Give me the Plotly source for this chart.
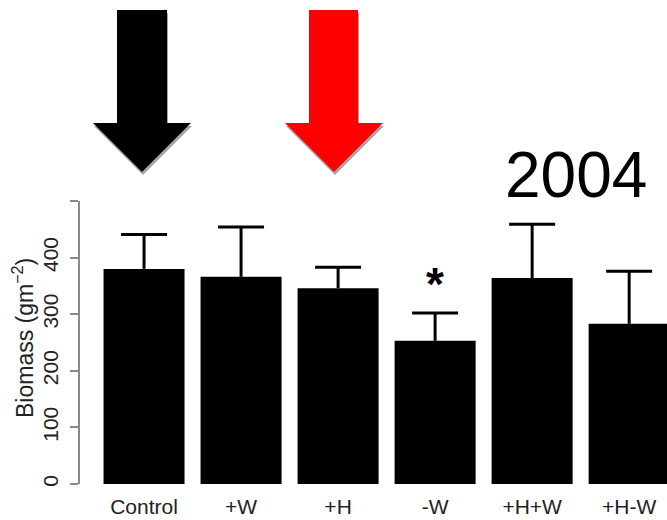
import plotly.graph_objects as go

# Treatment means and standard errors (upper whisker only)
treatments = ["Control", "+W", "+H", "-W", "+H+W", "+H-W"]
biomass = [380, 366, 346, 253, 364, 283]
std_err = [61, 88, 37, 49, 95, 93]
significant = ["-W"]
year_label = "2004"
y_ticks = [0, 100, 200, 300, 400]
y_top = 500

W, H = 667, 520
ML, MR, MT, MB = 80, 0, 201, 36
PW, PH = W - ML - MR, H - MT - MB
CAP_HALF = 0.237          # whisker cap half-width, in bar-slot units
FONT = "Liberation Sans, Arial"
AXIS_GREY = "#8a8a8a"


def px(x):
    return (x - ML) / PW


def py(y):
    return (H - MB - y) / PH


def arrow_path(shaft_l, shaft_r, top, head_l, head_r, head_y, tip_x, tip_y, dx=0, dy=0):
    pts = [(shaft_l, top), (shaft_r, top), (shaft_r, head_y), (head_r, head_y),
           (tip_x, tip_y), (head_l, head_y), (shaft_l, head_y)]
    return "M " + " L ".join(f"{px(a + dx):.5f},{py(b + dy):.5f}" for a, b in pts) + " Z"


pos = list(range(len(treatments)))

fig = go.Figure()
fig.add_trace(go.Bar(
    x=pos, y=biomass, width=0.835,
    marker=dict(color="black", line=dict(width=0)),
    hoverinfo="skip",
))

# upward-only whiskers with caps
wx, wy = [], []
for i, (m, e) in enumerate(zip(biomass, std_err)):
    wx += [i, i, None, i - CAP_HALF, i + CAP_HALF, None]
    wy += [m, m + e, None, m + e, m + e, None]
fig.add_trace(go.Scatter(x=wx, y=wy, mode="lines",
                         line=dict(color="black", width=3), hoverinfo="skip"))

shapes = []
for shaft_l, shaft_r, head_l, head_r, tip_x, color in [
    (117, 167, 93, 191, 142, "black"),
    (309, 358, 285, 383, 334, "#ff0000"),
]:
    shapes.append(dict(type="path", xref="paper", yref="paper", layer="above",
                       path=arrow_path(shaft_l, shaft_r, 10, head_l, head_r, 123, tip_x, 172, 1, 3),
                       fillcolor="#a6a6a6", line=dict(width=0)))
    shapes.append(dict(type="path", xref="paper", yref="paper", layer="above",
                       path=arrow_path(shaft_l, shaft_r, 10, head_l, head_r, 123, tip_x, 172),
                       fillcolor=color, line=dict(width=0)))

annotations = [
    dict(text=year_label, xref="paper", yref="paper", x=px(576), y=py(175),
         xanchor="center", yanchor="middle", showarrow=False,
         font=dict(family=FONT, size=64, color="black")),
    dict(text="Biomass (gm<sup>−2</sup>)", xref="paper", yref="paper",
         x=px(23), y=py(338), xanchor="center", yanchor="middle", textangle=-90,
         showarrow=False,
         font=dict(family=FONT, size=23, color="#222222")),
]
for t in significant:
    i = treatments.index(t)
    annotations.append(dict(text="<b>*</b>", x=i, y=biomass[i] + std_err[i] + 52,
                            xref="x", yref="y", showarrow=False,
                            xanchor="center", yanchor="middle",
                            font=dict(family=FONT, size=46, color="black")))

fig.update_layout(
    width=W, height=H,
    margin=dict(l=ML, r=MR, t=MT, b=MB, pad=0),
    paper_bgcolor="white", plot_bgcolor="white",
    showlegend=False,
    font=dict(family=FONT, color="#222222"),
    shapes=shapes, annotations=annotations,
    xaxis=dict(range=[-0.66, 5.39], showline=False, ticks="", showgrid=False,
               zeroline=False, tickmode="array", tickvals=pos, ticktext=treatments,
               tickfont=dict(size=21, color="#222222"), ticklabelstandoff=8),
    yaxis=dict(range=[0, y_top], showline=True, linecolor=AXIS_GREY, linewidth=1.5,
               ticks="outside", ticklen=8, tickcolor=AXIS_GREY, tickwidth=1.5,
               tickmode="array", tickvals=y_ticks, ticktext=[str(v) for v in y_ticks],
               minor=dict(tickmode="array", tickvals=[y_top], ticks="outside",
                          ticklen=8, tickcolor=AXIS_GREY, tickwidth=1.5, showgrid=False),
               tickangle=-90, showgrid=False, zeroline=False,
               tickfont=dict(size=21, color="#222222"), ticklabelstandoff=4),
)

fig.write_html("out.html")
